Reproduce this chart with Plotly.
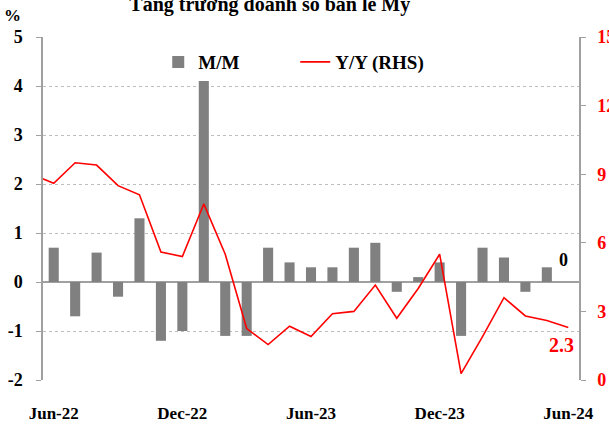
import plotly.graph_objects as go

# Categories (line includes May-22, which is clipped at the left edge)
months = ["Jun-22", "Jul-22", "Aug-22", "Sep-22", "Oct-22", "Nov-22", "Dec-22",
          "Jan-23", "Feb-23", "Mar-23", "Apr-23", "May-23", "Jun-23", "Jul-23",
          "Aug-23", "Sep-23", "Oct-23", "Nov-23", "Dec-23", "Jan-24", "Feb-24",
          "Mar-24", "Apr-24", "May-24", "Jun-24"]
line_months = ["May-22"] + months

mm_values = [0.7, -0.7, 0.6, -0.3, 1.3, -1.2, -1.0, 4.1, -1.1, -1.1, 0.7, 0.4,
             0.3, 0.3, 0.7, 0.8, -0.2, 0.1, 0.4, -1.1, 0.7, 0.5, -0.2, 0.3, 0.0]
yy_values = [9.0, 8.6, 9.5, 9.4, 8.5, 8.1, 5.6, 5.4, 7.7, 5.5, 2.25, 1.55, 2.35,
             1.9, 2.9, 3.0, 4.15, 2.7, 4.0, 5.5, 0.28, 1.9, 3.6, 2.8, 2.6, 2.3]

tick_labels = ["Jun-22", "Dec-22", "Jun-23", "Dec-23", "Jun-24"]
left_ticks = [-2, -1, 0, 1, 2, 3, 4, 5]
left_tick_text = ["-2", "-1", "0", "1", "2", "3", "4", "5"]

FONT = "Liberation Serif"
RED = "#FF0000"
GRAY = "#808080"

# small tick marks on the zero line: boundaries before each labelled month
tick_positions = [line_months.index(m) - 0.5 for m in tick_labels[1:]]

fig = go.Figure()
fig.add_trace(go.Bar(x=months, y=mm_values, name="M/M", marker_color=GRAY,
                     marker_line_width=0, width=0.47))
fig.add_trace(go.Scatter(x=line_months, y=yy_values, name="Y/Y (RHS)", yaxis="y2",
                         mode="lines", line=dict(color=RED, width=1.6)))

fig.update_layout(
    width=609, height=424,
    margin=dict(l=43, r=30, t=37, b=44),
    paper_bgcolor="white", plot_bgcolor="white",
    font=dict(family=FONT, size=17, color="black"),
    showlegend=True,
    legend=dict(orientation="h", x=0.215, y=0.927, xanchor="left", yanchor="middle",
                font=dict(family=FONT, size=19, color="black", weight="bold"),
                bgcolor="rgba(0,0,0,0)", entrywidth=92, entrywidthmode="pixels",
                traceorder="normal"),
    xaxis=dict(type="category", categoryorder="array", categoryarray=line_months,
               range=[0.5, 25.5], tickvals=tick_labels, ticktext=tick_labels,
               ticks="", showgrid=False, showline=False, zeroline=False,
               automargin=False,
               tickfont=dict(family=FONT, size=17, color="black", weight="bold"),
               ticklabelstandoff=21),
    xaxis2=dict(overlaying="x", anchor="free", position=2 / 7, range=[0.5, 25.5],
                tickvals=tick_positions, showticklabels=False, ticks="outside",
                ticklen=5, tickcolor="#A0A0A0", tickwidth=1, showgrid=False,
                showline=False, zeroline=False, automargin=False),
    yaxis=dict(range=[-2, 5], tickvals=left_ticks, ticktext=left_tick_text,
               showgrid=True, gridcolor="#BEBEBE",
               griddash="dot", gridwidth=1, zeroline=True, zerolinecolor="#A0A0A0",
               zerolinewidth=1.5, showline=True, linecolor="#A0A0A0", linewidth=1.5,
               ticks="outside", ticklen=5, tickcolor="#A0A0A0", automargin=False,
               tickfont=dict(family=FONT, size=18, color="black", weight="bold"),
               ticklabelstandoff=10),
    yaxis2=dict(range=[0, 15], dtick=3, overlaying="y", side="right",
                showgrid=False, zeroline=False, showline=True, linecolor="#A0A0A0",
                linewidth=1.5, ticks="outside", ticklen=5, tickcolor="#A0A0A0",
                automargin=False,
                tickfont=dict(family=FONT, size=18, color=RED, weight="bold"),
                ticklabelstandoff=8),
    bargap=0.5,
)

fig.update_layout(title=dict(text="Tăng trưởng doanh số bán lẻ Mỹ",
                             font=dict(family=FONT, size=20, color="black", weight="bold"),
                             x=0.443, xanchor="center", xref="container",
                             y=0.99, yanchor="middle", yref="container",
                             automargin=False))

fig.add_annotation(text="%", xref="paper", yref="paper", x=-0.072, y=1.078,
                   xshift=-2, yshift=6,
                   showarrow=False, font=dict(family=FONT, size=17, color="black", weight="bold"))
fig.add_annotation(text="0", x="Jun-24", y=0.45, xref="x", yref="y", xshift=-5,
                   showarrow=False, font=dict(family=FONT, size=18, color="black", weight="bold"))
fig.add_annotation(text="2.3", x="Jun-24", y=1.53, xref="x", yref="y2", xshift=-7,
                   showarrow=False, font=dict(family=FONT, size=20, color=RED, weight="bold"))

fig.write_html("out.html", config={"displayModeBar": False},
               post_script="document.body.style.margin='0';document.body.style.overflow='hidden';")
